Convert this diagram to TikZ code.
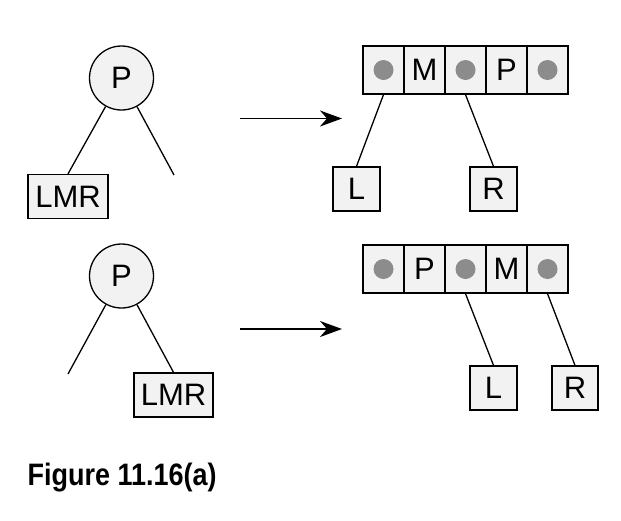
\documentclass[tikz,border=0pt]{standalone}
\usepackage{fontspec}
\setmainfont{Liberation Sans}
\usetikzlibrary{arrows.meta,positioning}

\tikzset{
  keynode/.style={circle, draw, fill=gray!10, minimum size=64pt, inner sep=0pt},
  subtree/.style={rectangle, draw, fill=gray!10, minimum width=47pt, minimum height=44pt, inner sep=0pt},
  cell/.style={rectangle, draw, fill=gray!10, minimum width=41pt, minimum height=48pt, inner sep=0pt},
  ptr/.style={circle, fill=black!45, minimum size=20pt, inner sep=0pt},
  move/.style={line width=1.8pt, -{Stealth[length=22pt,width=16pt,inset=7pt]}}
}

\begin{document}
\begin{tikzpicture}[x=1pt, y=-1pt, line width=1.3pt, font=\fontsize{31}{37}\selectfont]
    \useasboundingbox (0,0) rectangle (621,520);

    % Upper case: LMR under the left branch
    \node [keynode] (p1) at (121.5,78) {P};
    \node [subtree, minimum width=80pt] (lmr1) at (68,196.5) {LMR};
    \coordinate (e1) at (174,175);
    \draw (p1) -- (lmr1.north); \draw (p1) -- (e1);

    \coordinate (a1s) at (240,118.5); \coordinate (a1e) at (342,118.5);
    \draw [move] (a1s) -- (a1e);

    % Upper result: 4-node
    \foreach \lab [count=\i] in {{},M,{},P,{}}
        \node [cell] (t\i) at (342.5+41*\i,70) {\lab};
    \foreach \i in {1,3,5} \node [ptr] at (t\i) {};
    \node [subtree] (tl) at (356.5,189) {L};
    \node [subtree] (tr) at (493.5,189) {R};
    \draw (t1.south) -- (tl.north); \draw (t3.south) -- (tr.north);

    % Lower case: LMR under the right branch
    \node [keynode] (p2) at (121.5,276) {P};
    \node [subtree, minimum width=79pt] (lmr2) at (173.5,395) {LMR};
    \coordinate (e2) at (68,374);
    \draw (p2) -- (e2); \draw (p2) -- (lmr2.north);

    \coordinate (a2s) at (240,329); \coordinate (a2e) at (342,329);
    \draw [move] (a2s) -- (a2e);

    % Lower result: 4-node
    \foreach \lab [count=\i] in {{},P,{},M,{}}
        \node [cell] (b\i) at (342.5+41*\i,269) {\lab};
    \foreach \i in {1,3,5} \node [ptr] at (b\i) {};
    \node [subtree] (bl) at (493.5,388) {L};
    \node [subtree, minimum width=46pt] (br) at (575,388) {R};
    \draw (b3.south) -- (bl.north); \draw (b5.south) -- (br.north);

    % Caption
    \node [anchor=base west, inner sep=0pt, font=\fontsize{31}{36}\selectfont\bfseries] (cap) at (27,485) {\scalebox{0.87}[1]{Figure 11.16(a)}};
\end{tikzpicture}
\end{document}
